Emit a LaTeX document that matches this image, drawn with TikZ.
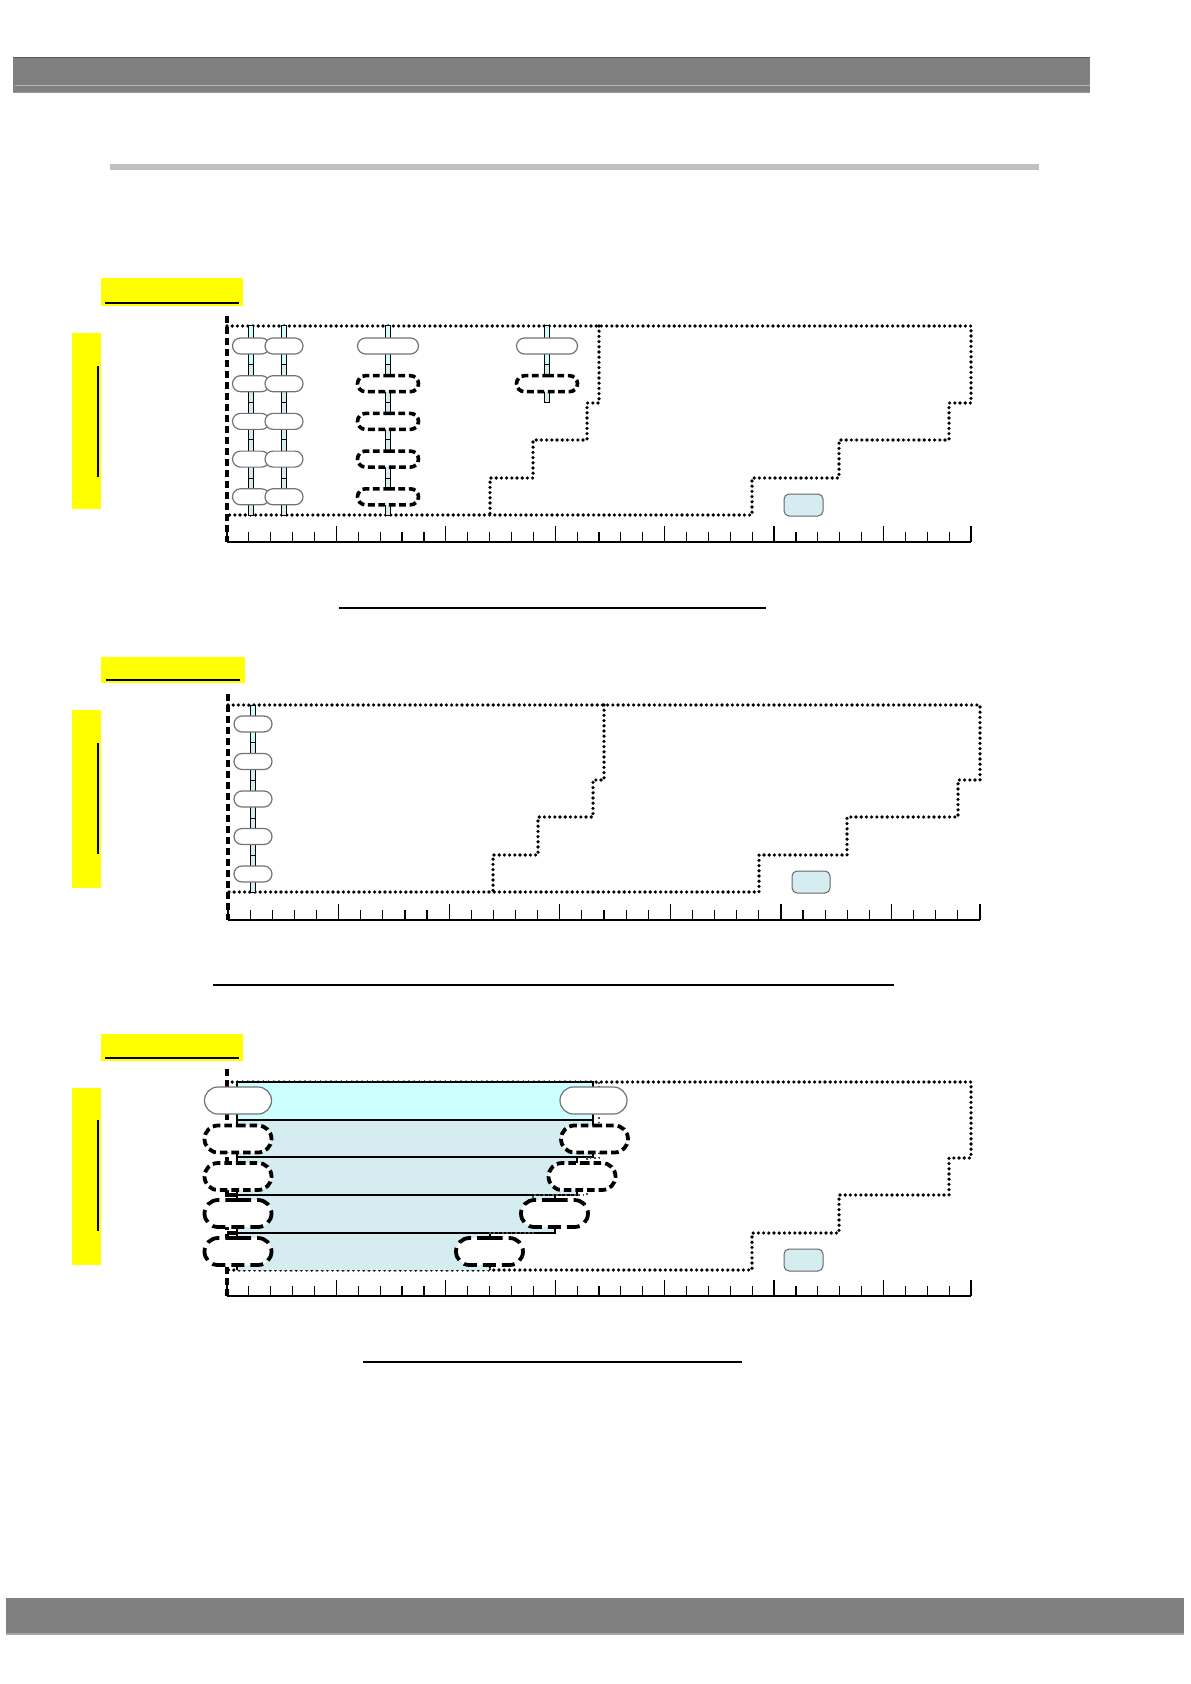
\documentclass[tikz,border=0pt]{standalone}
\usetikzlibrary{shapes.misc}
\definecolor{hdr}{HTML}{808080}
\definecolor{hdrlt}{HTML}{B4B4B4}
\definecolor{rulegray}{HTML}{C0C0C0}
\definecolor{ylw}{HTML}{FFFF00}
\definecolor{cyanlt}{HTML}{CCFFFF}
\definecolor{shadebl}{HTML}{D5ECF0}
\newcommand\myruler[3]{%
  \draw[line width=0.7pt] (#1,#3) -- (#2,#3);
  \foreach \i in {0,...,34}{%
    \pgfmathsetmacro\tx{#1+(#2-#1)/34*\i}%
    \pgfmathsetmacro\th{(mod(\i,5)==0 || \i==34) ? 16 : 10}%
    \draw[line width=0.6pt] (\tx,#3) -- (\tx,#3-\th);
  }%
}
\newcommand\myrod[4]{% x, top, bottom, list of divisions
  \fill[shadebl] (#1-2.8,#2) rectangle (#1+2.8,#3);
  \fill[cyanlt] (#1-2.8,#2) rectangle (#1+2.8,#2+39);
  \draw[line width=0.5pt] (#1-2.8,#2) rectangle (#1+2.8,#3);
  \foreach \yy in {#4} {\draw[line width=0.5pt] (#1-2.8,\yy) -- (#1+2.8,\yy);}
}
\begin{document}
\begin{tikzpicture}[x=0.5pt,y=-0.5pt,
  pill/.style={rounded rectangle, draw=black!55, line width=0.6pt, fill=white,
    inner sep=0pt, minimum height=8pt, minimum width=18.5pt},
  wpill/.style={pill, minimum width=30.5pt},
  dpill/.style={wpill, draw=black, line width=1.8pt, dash pattern=on 3.4pt off 1.8pt},
  bigpill/.style={pill, minimum width=33.5pt, minimum height=13.5pt},
  bigdpill/.style={bigpill, draw=black, line width=1.9pt, dash pattern=on 3.8pt off 2pt},
  bigdpillL/.style={bigdpill, dash pattern=on 6.5pt off 3pt},
  dotln/.style={line width=1.8pt, line cap=round, dash pattern=on 0pt off 2.6pt},
  thindot/.style={line width=0.6pt, black!70, dash pattern=on 0.8pt off 1.4pt},
  axisln/.style={line width=1.8pt, dash pattern=on 3.5pt off 2pt},
  smallbox/.style={draw=black!60, line width=0.5pt, fill=shadebl, rounded corners=2.5pt},
  ybox/.style={fill=ylw},
  uline/.style={line width=0.8pt}
]
\useasboundingbox (0,0) rectangle (1190,1684);

% ---------- header ----------
\fill[hdr] (13,57) rectangle (1090,93);
\draw[black!65, line width=0.5pt] (13,57.5) -- (1090,57.5);
\draw[hdrlt, line width=0.8pt] (15,85.5) -- (1090,85.5);
\draw[black!40, line width=0.6pt] (13,92.8) -- (1090,92.8);
\fill[rulegray] (110,164) rectangle (1039,170);

% ---------- footer ----------
\fill[hdr] (6,1598) rectangle (1184,1634);
\draw[black!35, line width=0.6pt] (6,1634) -- (1184,1634);

% =============== SECTION 1 ===============
\fill[ybox] (101,278) rectangle (243,306);
\draw[uline] (105,303) -- (239,303);
\fill[ybox] (72,333) rectangle (101,509);
\draw[uline] (98,366) -- (98,477);

\draw[dotln] (227,326) -- (971,326) -- (971,403) -- (949,403) -- (949,440)
  -- (839,440) -- (839,478) -- (752,478) -- (752,515) -- (227,515);
\draw[dotln] (599,326) -- (599,403) -- (587,403) -- (587,440) -- (533,440)
  -- (533,478) -- (490,478) -- (490,515);
\node[smallbox, minimum width=19.5pt, minimum height=11pt, inner sep=0pt] (sb1) at (803.5,505) {};
\myruler{227}{971}{542}

\myrod{251}{326}{515}{365,403,440,478}
\myrod{284}{326}{515}{365,403,440,478}
\myrod{388}{326}{515}{365,403,440,478}
\myrod{547}{326}{403}{365}

\foreach \r [count=\i] in {346,383.7,421.4,459.1,496.8}{
  \node[pill] (a\i) at (251,\r) {};
  \node[pill, minimum width=19pt] (b\i) at (284,\r) {};
}
\node[wpill] (c1) at (388,346) {};
\foreach \r [count=\i from 2] in {383.7,421.4,459.1,496.8}{
  \node[dpill] (c\i) at (388,\r) {};
}
\node[wpill] (d1) at (547,346) {};
\node[dpill] (d2) at (547,383.7) {};
\draw[axisln] (227,316) -- (227,542);

\draw[uline] (339,608) -- (766,608);

% =============== SECTION 2 ===============
\fill[ybox] (101,657) rectangle (245,683);
\draw[uline] (106,680) -- (240,680);
\fill[ybox] (72,710) rectangle (101,888);
\draw[uline] (98,743) -- (98,854);

\draw[dotln] (228,705) -- (980,705) -- (980,780) -- (958,780) -- (958,817)
  -- (847,817) -- (847,855) -- (759,855) -- (759,892) -- (228,892);
\draw[dotln] (604,705) -- (604,780) -- (593,780) -- (593,817) -- (538,817)
  -- (538,855) -- (493,855) -- (493,892);
\node[smallbox, minimum width=19pt, minimum height=11pt, inner sep=0pt] (sb2) at (811,882) {};
\myruler{228}{980}{920}

\myrod{253}{705}{892}{742,780,818,855}
\foreach \r [count=\i] in {724,761.5,799,836.5,874}{
  \node[pill, minimum width=19pt] (e\i) at (253,\r) {};
}
\draw[axisln] (228,694) -- (228,920);

\draw[uline] (213,985) -- (894,985);

% =============== SECTION 3 ===============
\fill[ybox] (101,1034) rectangle (243,1061);
\draw[uline] (105,1058) -- (239,1058);
\fill[ybox] (72,1088) rectangle (101,1265);
\draw[uline] (98,1120) -- (98,1231);

\draw[dotln] (227,1082) -- (971,1082) -- (971,1158) -- (949,1158) -- (949,1195)
  -- (839,1195) -- (839,1233) -- (752,1233) -- (752,1270) -- (227,1270);

\fill[shadebl] (237,1120) -- (593,1120) -- (593,1157) -- (577,1157) -- (577,1195)
  -- (555,1195) -- (555,1233) -- (490,1233) -- (490,1270) -- (237,1270) -- cycle;
\fill[cyanlt] (237,1082) rectangle (593,1120);
\draw[line width=0.6pt] (237,1270) -- (237,1082) -- (593,1082) -- (593,1157)
  -- (577,1157) -- (577,1195) -- (555,1195) -- (555,1233) -- (490,1233) -- (490,1270);
\draw[line width=0.6pt] (237,1120) -- (593,1120);
\draw[line width=0.6pt] (237,1157) -- (593,1157);
\draw[line width=0.6pt] (237,1195) -- (577,1195);
\draw[line width=0.6pt] (237,1233) -- (555,1233);
\draw[thindot] (599,1082) -- (599,1158) -- (587,1158) -- (587,1195) -- (533,1195)
  -- (533,1233) -- (490,1233) -- (490,1270);

\node[smallbox, minimum width=19.5pt, minimum height=11pt, inner sep=0pt] (sb3) at (803.5,1260) {};
\myruler{227}{971}{1296}

\draw[axisln] (227,1069) -- (227,1296);
\draw[line width=1.8pt] (227,1195) -- (237,1195);
\draw[line width=1.8pt] (227,1233) -- (237,1233);

\node[bigpill] (l1) at (238,1100.5) {};
\node[bigdpill] (l2) at (238,1139) {};
\node[bigdpill] (l3) at (238,1176.5) {};
\node[bigdpillL] (l4) at (238,1213.5) {};
\node[bigdpillL] (l5) at (238,1251.5) {};

\node[bigpill] (r1) at (593.5,1100.5) {};
\node[bigdpill] (r2) at (594.5,1139) {};
\node[bigdpill] (r3) at (582,1176.5) {};
\node[bigdpillL] (r4) at (554.5,1213.5) {};
\node[bigdpillL] (r5) at (489.5,1251.5) {};

\draw[uline] (363,1362) -- (742,1362);
\end{tikzpicture}
\end{document}
